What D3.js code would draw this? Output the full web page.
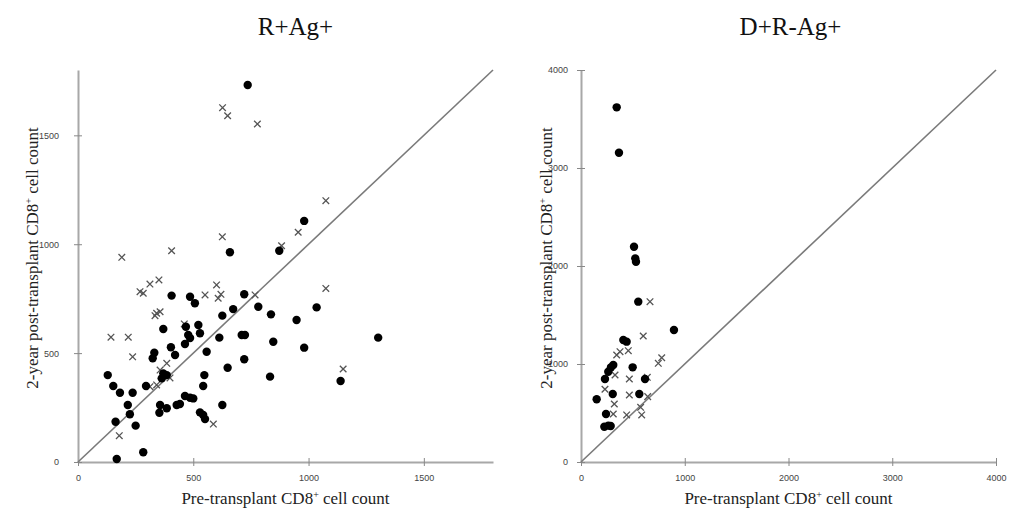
<!DOCTYPE html>
<html><head><meta charset="utf-8">
<script src="https://cdn.jsdelivr.net/npm/d3@7"></script>
<style>
body{margin:0;background:#fff;}
svg{display:block;}
.tick text{font-family:"Liberation Sans",Arial,sans-serif;font-size:9px;fill:#444;}
</style></head>
<body>
<svg id="c" width="1009" height="521"></svg>
<script>
// ---- data ----
const leftTitle = "R+Ag+";
const rightTitle = "D+R-Ag+";
const leftTicks = [0, 500, 1000, 1500];
const rightTicks = [0, 1000, 2000, 3000, 4000];
const leftMax = 1800;
const rightMax = 4000;

// R+Ag+ : filled circles [pre, post]
const leftCircles = [
 [736,1731],[659,963],[981,1107],[873,970],[406,764],[486,759],[507,729],[721,770],
 [782,713],[673,702],[626,672],[468,621],[522,629],[370,611],[478,583],[486,569],
 [529,591],[613,571],[710,583],[724,583],[403,527],[464,542],[421,491],[331,502],
 [324,476],[558,506],[721,472],[649,433],[129,399],[370,407],[385,399],[363,384],
 [548,399],[153,349],[182,318],[237,318],[295,349],[543,349],[464,303],[486,295],
 [500,292],[216,262],[356,262],[385,247],[428,262],[442,266],[353,226],[626,262],
 [529,228],[543,216],[551,197],[225,219],[163,185],[250,167],[283,45],[168,14],
 [837,678],[1035,710],[948,652],[847,552],[981,525],[1302,571],[1139,372],[833,392]
];
// R+Ag+ : crosses [pre, post]
const leftCrosses = [
 [627,1627],[649,1590],[778,1552],[626,1034],[406,970],[190,940],[1075,1200],[955,1055],
 [883,993],[269,782],[283,775],[312,817],[351,836],[341,683],[356,690],[334,672],
 [601,813],[620,770],[608,752],[551,767],[461,634],[143,573],[218,573],[237,483],
 [385,453],[399,386],[356,422],[341,354],[312,346],[587,174],[179,121],[1075,797],
 [768,767],[1150,427]
];
// D+R-Ag+ : filled circles
const rightCircles = [
 [344,3619],[366,3156],[511,2197],[523,2078],[530,2044],[552,1636],[896,1347],
 [408,1245],[440,1228],[311,990],[263,921],[289,966],[498,966],[231,847],[617,847],
 [306,694],[562,694],[151,640],[241,490],[225,360],[263,371],[286,367]
];
// D+R-Ag+ : crosses
const rightCrosses = [
 [665,1636],[600,1286],[376,1126],[456,1136],[344,1092],[745,1007],[778,1064],
 [328,888],[639,864],[466,847],[231,742],[466,684],[643,667],[321,592],[575,558],
 [311,490],[440,480],[585,480]
];

// ---- drawing ----
const svg = d3.select("#c");
const serif = '"Liberation Serif","Times New Roman",serif';
const fmt = d3.format("d");

function panel(opt){
  const x = d3.scaleLinear().domain([0,opt.max]).range([opt.x0,opt.x1]);
  const y = d3.scaleLinear().domain([0,opt.max]).range([462,70]);
  const g = svg.append("g");

  // title
  g.append("text").attr("x",(opt.x0+opt.x1)/2 + opt.tdx).attr("y",35)
    .attr("text-anchor","middle").attr("font-family",serif).attr("font-size",25)
    .attr("fill","#111").text(opt.title);

  // x axis
  const xa = g.append("g").attr("transform","translate(0,462)")
    .call(d3.axisBottom(x).tickValues(opt.ticks).tickFormat(fmt).tickSize(4).tickSizeOuter(0));
  xa.select(".domain").attr("stroke","#a8a8a8").attr("stroke-width",2);
  xa.selectAll(".tick line").attr("y1",-4).attr("y2",4).attr("stroke","#888").attr("stroke-width",1);
  xa.selectAll(".tick text").attr("y",13);

  // y axis
  const ya = g.append("g").attr("transform",`translate(${opt.x0},0)`)
    .call(d3.axisLeft(y).tickValues(opt.ticks).tickFormat(fmt).tickSize(4).tickSizeOuter(0));
  ya.select(".domain").attr("stroke","#a8a8a8").attr("stroke-width",2);
  ya.selectAll(".tick line").attr("x1",-4).attr("x2",4).attr("stroke","#888").attr("stroke-width",1);
  ya.selectAll(".tick text").attr("x",-opt.ylgap).attr("dy","0.32em");

  // diagonal line of identity
  g.append("line").attr("x1",x(0)).attr("y1",y(0)).attr("x2",x(opt.max)).attr("y2",y(opt.max))
    .attr("stroke","#7a7a7a").attr("stroke-width",1.6);

  // crosses
  const s = 3.3;
  g.append("g").selectAll("path").data(opt.crosses).join("path")
    .attr("d",d=>{const cx=x(d[0]),cy=y(d[1]);
      return `M${cx-s},${cy-s}L${cx+s},${cy+s}M${cx-s},${cy+s}L${cx+s},${cy-s}`;})
    .attr("stroke","#555").attr("stroke-width",1.3).attr("fill","none");

  // circles
  g.append("g").selectAll("circle").data(opt.circles).join("circle")
    .attr("cx",d=>x(d[0])).attr("cy",d=>y(d[1])).attr("r",4.2).attr("fill","#000");

  // x axis title
  const xt = g.append("text").attr("x",(opt.x0+opt.x1)/2).attr("y",504)
    .attr("text-anchor","middle").attr("font-family",serif).attr("font-size",17).attr("fill","#222");
  xt.append("tspan").text("Pre-transplant CD8");
  xt.append("tspan").attr("font-size",10).attr("dy",-6).text("+");
  xt.append("tspan").attr("dy",6).text(" cell count");

  // y axis title
  const yt = g.append("text").attr("transform",`translate(${opt.ytx},258) rotate(-90)`)
    .attr("text-anchor","middle").attr("font-family",serif).attr("font-size",17).attr("fill","#222");
  yt.append("tspan").text("2-year post-transplant CD8");
  yt.append("tspan").attr("font-size",10).attr("dy",-6).text("+");
  yt.append("tspan").attr("dy",6).text(" cell count");
}

panel({title:leftTitle,x0:78,x1:493,max:leftMax,ticks:leftTicks,circles:leftCircles,crosses:leftCrosses,ylgap:19,ytx:38,tdx:10});
panel({title:rightTitle,x0:581,x1:996,max:rightMax,ticks:rightTicks,circles:rightCircles,crosses:rightCrosses,ylgap:13,ytx:552,tdx:2});
</script>
</body></html>
